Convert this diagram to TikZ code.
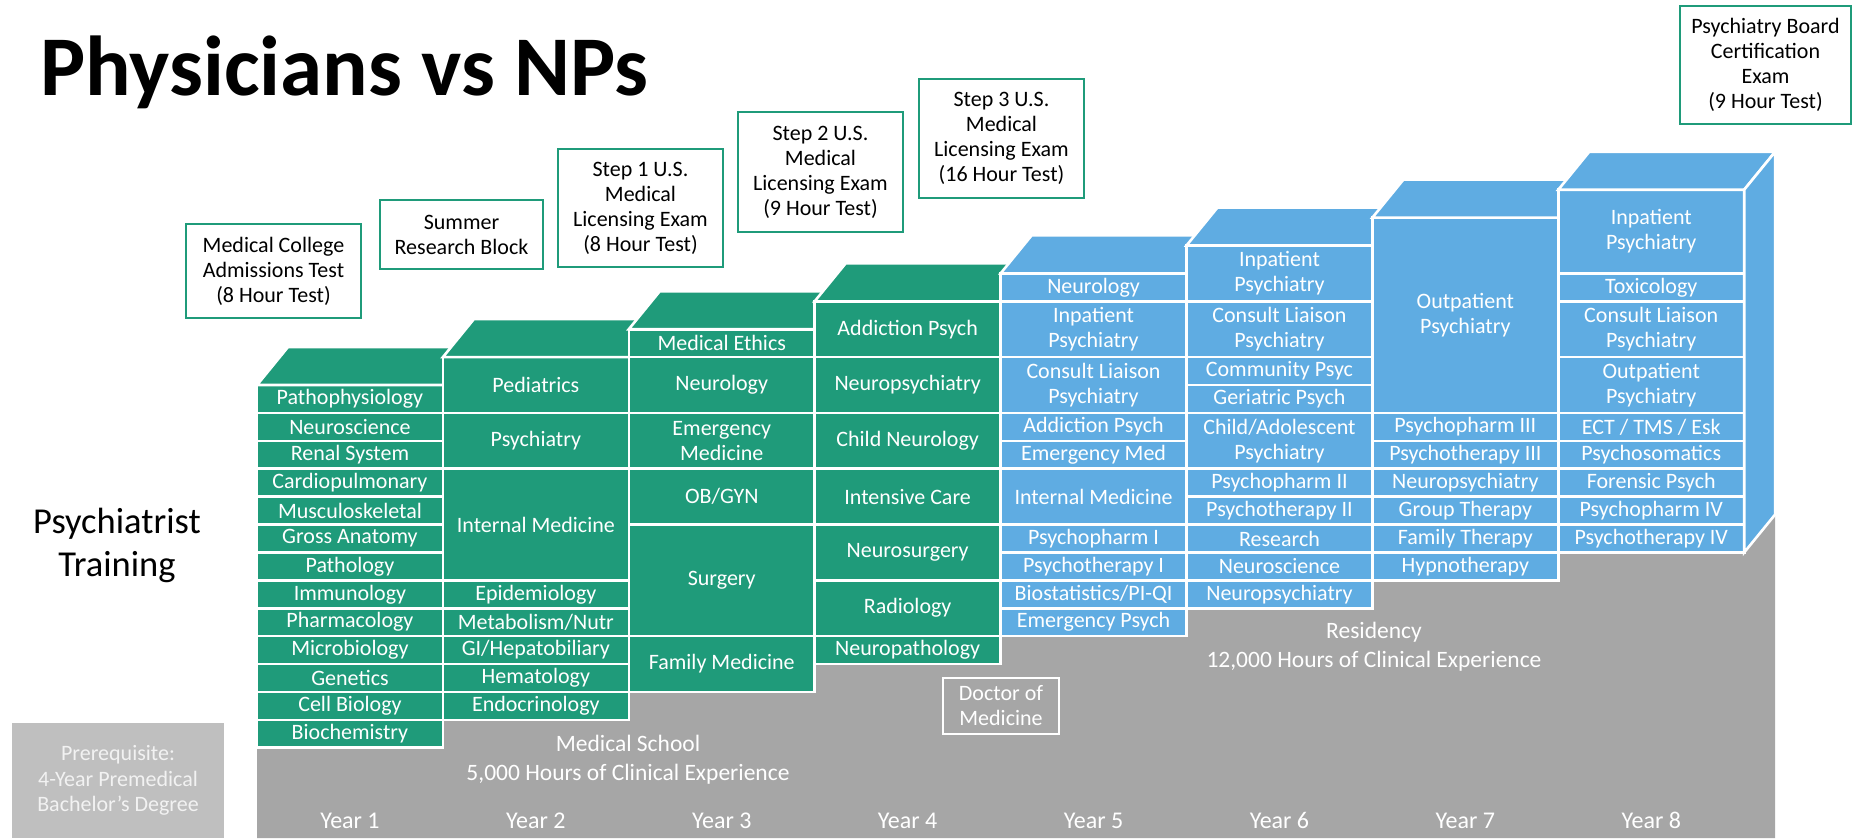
\documentclass[tikz,border=0pt]{standalone}
\usepackage{fontspec}
\setmainfont{Carlito}
\usepackage{tikz}
\usetikzlibrary{positioning,calc,backgrounds}
\definecolor{msgreen}{RGB}{31,155,122}
\definecolor{resblue}{RGB}{95,172,226}
\definecolor{floorgray}{RGB}{166,166,166}
\definecolor{prereqgray}{RGB}{191,191,191}
\tikzset{
    cell/.style={
           rectangle,
           draw=white, line width=2.6pt,
           minimum width=185.9pt,
           minimum height=27.9pt,
           inner sep=0pt, outer sep=0pt,
           text=white,
           align=center,
           font=\fontsize{22}{25}\selectfont
           },
    ms/.style={cell, fill=msgreen},
    res/.style={cell, fill=resblue},
    rows/.style={minimum height=#1*27.9pt},
    mstop/.style={fill=msgreen, draw=white, line width=2.6pt},
    restop/.style={fill=resblue, draw=white, line width=2.6pt},
    exam/.style={
           rectangle,
           draw=msgreen, line width=2pt,
           fill=white,
           inner sep=0pt,
           align=center,
           font=\fontsize{22}{25}\selectfont
           },
    floorlab/.style={text=white, align=center, inner sep=0pt, font=\fontsize{23.5}{29}\selectfont},
    yearlab/.style={floorlab, font=\fontsize{24}{29}\selectfont},
}

\begin{document}
\begin{tikzpicture}[x=1pt,y=-1pt]
\useasboundingbox (0,0) rectangle (1852,838);

% floor under the steps
\begin{scope}[on background layer]
\fill[floorgray] (257,748) -- (442.9,748) |- (628.8,720.2) |- (814.7,692.3) |- (1000.6,664.4)
     |- (1186.5,636.5) |- (1372.4,608.6) |- (1558.3,580.7) |- (1744.2,552.8)
     -- ++(31,-38) -- (1775.2,838) -- (257,838) -- cycle;
\end{scope}

\node[anchor=base west, inner sep=0pt, font=\fontsize{85}{90}\selectfont\bfseries] (TITLE) at (40,95) {Physicians vs NPs};
\node[align=center, inner sep=0pt, font=\fontsize{36.5}{43}\selectfont] (TRAINING) at (117,545) {Psychiatrist\\Training};

\node[fill=prereqgray, minimum width=212pt, minimum height=115pt, inner sep=0pt,
      text={rgb,255:red,242;green,242;blue,242}, align=center,
      font=\fontsize{22}{25.5}\selectfont] (PREREQ) at (118,780.5)
     {Prerequisite:\\4-Year Premedical\\Bachelor’s Degree};

% Year 1
\node[ms, anchor=north west] (PATHO) at (257,385) {Pathophysiology};
\node[ms, below=0pt of PATHO] (NEUROSCI) {Neuroscience};
\node[ms, below=0pt of NEUROSCI] (RENAL) {Renal System};
\node[ms, below=0pt of RENAL] (CARDIO) {Cardiopulmonary};
\node[ms, below=0pt of CARDIO] (MUSCULO) {Musculoskeletal};
\node[ms, below=0pt of MUSCULO] (GROSS) {Gross Anatomy};
\node[ms, below=0pt of GROSS] (PATHOL) {Pathology};
\node[ms, below=0pt of PATHOL] (IMMUNO) {Immunology};
\node[ms, below=0pt of IMMUNO] (PHARMA) {Pharmacology};
\node[ms, below=0pt of PHARMA] (MICRO) {Microbiology};
\node[ms, below=0pt of MICRO] (GENETICS) {Genetics};
\node[ms, below=0pt of GENETICS] (CELLBIO) {Cell Biology};
\node[ms, below=0pt of CELLBIO] (BIOCHEM) {Biochemistry};
\filldraw[mstop] (PATHO.north west) -- ++(31,-38) -- ++(185.9,0) -- (PATHO.north east) -- cycle;

% Year 2
\node[ms, rows=2, anchor=north west] (PEDS) at ($(PATHO.north east)+(0,-27.9)$) {Pediatrics};
\node[ms, rows=2, below=0pt of PEDS] (PSYCH2) {Psychiatry};
\node[ms, rows=4, below=0pt of PSYCH2] (INTMED2) {Internal Medicine};
\node[ms, below=0pt of INTMED2] (EPI) {Epidemiology};
\node[ms, below=0pt of EPI] (METAB) {Metabolism/Nutr};
\node[ms, below=0pt of METAB] (GIHEP) {GI/Hepatobiliary};
\node[ms, below=0pt of GIHEP] (HEMAT) {Hematology};
\node[ms, below=0pt of HEMAT] (ENDO) {Endocrinology};
\filldraw[mstop] (PEDS.north west) -- ++(31,-38) -- ++(185.9,0) -- (PEDS.north east) -- cycle;

% Year 3
\node[ms, anchor=north west] (ETHICS) at ($(PEDS.north east)+(0,-27.9)$) {Medical Ethics};
\node[ms, rows=2, below=0pt of ETHICS] (NEURO3) {Neurology};
\node[ms, rows=2, below=0pt of NEURO3] (EMMED3) {Emergency\\Medicine};
\node[ms, rows=2, below=0pt of EMMED3] (OBGYN) {OB/GYN};
\node[ms, rows=4, below=0pt of OBGYN] (SURG) {Surgery};
\node[ms, rows=2, below=0pt of SURG] (FAMMED) {Family Medicine};
\filldraw[mstop] (ETHICS.north west) -- ++(31,-38) -- ++(185.9,0) -- (ETHICS.north east) -- cycle;

% Year 4
\node[ms, rows=2, anchor=north west] (ADDICT4) at ($(ETHICS.north east)+(0,-27.9)$) {Addiction Psych};
\node[ms, rows=2, below=0pt of ADDICT4] (NEUROPSY4) {Neuropsychiatry};
\node[ms, rows=2, below=0pt of NEUROPSY4] (CHILDNEURO) {Child Neurology};
\node[ms, rows=2, below=0pt of CHILDNEURO] (ICU) {Intensive Care};
\node[ms, rows=2, below=0pt of ICU] (NSURG) {Neurosurgery};
\node[ms, rows=2, below=0pt of NSURG] (RADIO) {Radiology};
\node[ms, below=0pt of RADIO] (NEUROPATH) {Neuropathology};
\filldraw[mstop] (ADDICT4.north west) -- ++(31,-38) -- ++(185.9,0) -- (ADDICT4.north east) -- cycle;

% Year 5
\node[res, anchor=north west] (NEURO5) at ($(ADDICT4.north east)+(0,-27.9)$) {Neurology};
\node[res, rows=2, below=0pt of NEURO5] (INPAT5) {Inpatient\\Psychiatry};
\node[res, rows=2, below=0pt of INPAT5] (CL5) {Consult Liaison\\Psychiatry};
\node[res, below=0pt of CL5] (ADDICT5) {Addiction Psych};
\node[res, below=0pt of ADDICT5] (EMMED5) {Emergency Med};
\node[res, rows=2, below=0pt of EMMED5] (INTMED5) {Internal Medicine};
\node[res, below=0pt of INTMED5] (PHARM1) {Psychopharm I};
\node[res, below=0pt of PHARM1] (THER1) {Psychotherapy I};
\node[res, below=0pt of THER1] (BIOSTAT) {Biostatistics/PI-QI};
\node[res, below=0pt of BIOSTAT] (EMPSYCH) {Emergency Psych};
\filldraw[restop] (NEURO5.north west) -- ++(31,-38) -- ++(185.9,0) -- (NEURO5.north east) -- cycle;

% Year 6
\node[res, rows=2, anchor=north west] (INPAT6) at ($(NEURO5.north east)+(0,-27.9)$) {Inpatient\\Psychiatry};
\node[res, rows=2, below=0pt of INPAT6] (CL6) {Consult Liaison\\Psychiatry};
\node[res, below=0pt of CL6] (COMMUNITY) {Community Psyc};
\node[res, below=0pt of COMMUNITY] (GERI) {Geriatric Psych};
\node[res, rows=2, below=0pt of GERI] (CHILDADOL) {Child/Adolescent\\Psychiatry};
\node[res, below=0pt of CHILDADOL] (PHARM2) {Psychopharm II};
\node[res, below=0pt of PHARM2] (THER2) {Psychotherapy II};
\node[res, below=0pt of THER2] (RESEARCH) {Research};
\node[res, below=0pt of RESEARCH] (NEUROSCI6) {Neuroscience};
\node[res, below=0pt of NEUROSCI6] (NEUROPSY6) {Neuropsychiatry};
\filldraw[restop] (INPAT6.north west) -- ++(31,-38) -- ++(185.9,0) -- (INPAT6.north east) -- cycle;

% Year 7
\node[res, rows=7, anchor=north west] (OUTPAT7) at ($(INPAT6.north east)+(0,-27.9)$) {Outpatient\\Psychiatry};
\node[res, below=0pt of OUTPAT7] (PHARM3) {Psychopharm III};
\node[res, below=0pt of PHARM3] (THER3) {Psychotherapy III};
\node[res, below=0pt of THER3] (NEUROPSY7) {Neuropsychiatry};
\node[res, below=0pt of NEUROPSY7] (GROUP) {Group Therapy};
\node[res, below=0pt of GROUP] (FAMILY) {Family Therapy};
\node[res, below=0pt of FAMILY] (HYPNO) {Hypnotherapy};
\filldraw[restop] (OUTPAT7.north west) -- ++(31,-38) -- ++(185.9,0) -- (OUTPAT7.north east) -- cycle;

% Year 8
\node[res, rows=3, anchor=north west] (INPAT8) at ($(OUTPAT7.north east)+(0,-27.9)$) {Inpatient\\Psychiatry};
\node[res, below=0pt of INPAT8] (TOXI) {Toxicology};
\node[res, rows=2, below=0pt of TOXI] (CL8) {Consult Liaison\\Psychiatry};
\node[res, rows=2, below=0pt of CL8] (OUTPAT8) {Outpatient\\Psychiatry};
\node[res, below=0pt of OUTPAT8] (ECT) {ECT / TMS / Esk};
\node[res, below=0pt of ECT] (PSYSOM) {Psychosomatics};
\node[res, below=0pt of PSYSOM] (FORENSIC) {Forensic Psych};
\node[res, below=0pt of FORENSIC] (PHARM4) {Psychopharm IV};
\node[res, below=0pt of PHARM4] (THER4) {Psychotherapy IV};
\filldraw[restop] (INPAT8.north west) -- ++(31,-38) -- ++(185.9,0) -- (INPAT8.north east) -- cycle;
\filldraw[restop] (INPAT8.north east) -- ++(31,-38) -- ($(THER4.south east)+(31,-38)$) -- (THER4.south east) -- cycle;

% exams
\node[exam, minimum width=175pt, minimum height=94pt] (MCAT) at (273.5,271)
     {Medical College\\Admissions Test\\(8 Hour Test)};
\node[exam, minimum width=163pt, minimum height=69pt] (SUMMER) at (461.5,234.5)
     {Summer\\Research Block};
\node[exam, minimum width=165pt, minimum height=118pt] (STEP1) at (640.5,208)
     {Step 1 U.S.\\Medical\\Licensing Exam\\(8 Hour Test)};
\node[exam, minimum width=165pt, minimum height=120pt] (STEP2) at (820.5,172)
     {Step 2 U.S.\\Medical\\Licensing Exam\\(9 Hour Test)};
\node[exam, minimum width=165pt, minimum height=119pt] (STEP3) at (1001.5,138.5)
     {Step 3 U.S.\\Medical\\Licensing Exam\\(16 Hour Test)};
\node[exam, minimum width=171pt, minimum height=118pt] (BOARD) at (1765.5,65)
     {Psychiatry Board\\Certification\\Exam\\(9 Hour Test)};

% labels on the floor
\node[draw=white, line width=2.6pt, minimum width=116pt, minimum height=56pt, inner sep=0pt,
      text=white, align=center, font=\fontsize{22}{25}\selectfont] (MD) at (1001,706) {Doctor of\\Medicine};
\node[floorlab] (MEDSCHOOL) at (628,760) {Medical School\\5,000 Hours of Clinical Experience};
\node[floorlab] (RESIDENCY) at (1374,647) {Residency\\12,000 Hours of Clinical Experience};

\node[yearlab] (YEAR1) at (PATHO |- 0,820.5) {Year 1};
\node[yearlab] (YEAR2) at (PEDS |- 0,820.5) {Year 2};
\node[yearlab] (YEAR3) at (ETHICS |- 0,820.5) {Year 3};
\node[yearlab] (YEAR4) at (ADDICT4 |- 0,820.5) {Year 4};
\node[yearlab] (YEAR5) at (NEURO5 |- 0,820.5) {Year 5};
\node[yearlab] (YEAR6) at (INPAT6 |- 0,820.5) {Year 6};
\node[yearlab] (YEAR7) at (OUTPAT7 |- 0,820.5) {Year 7};
\node[yearlab] (YEAR8) at (INPAT8 |- 0,820.5) {Year 8};

\end{tikzpicture}
\end{document}
